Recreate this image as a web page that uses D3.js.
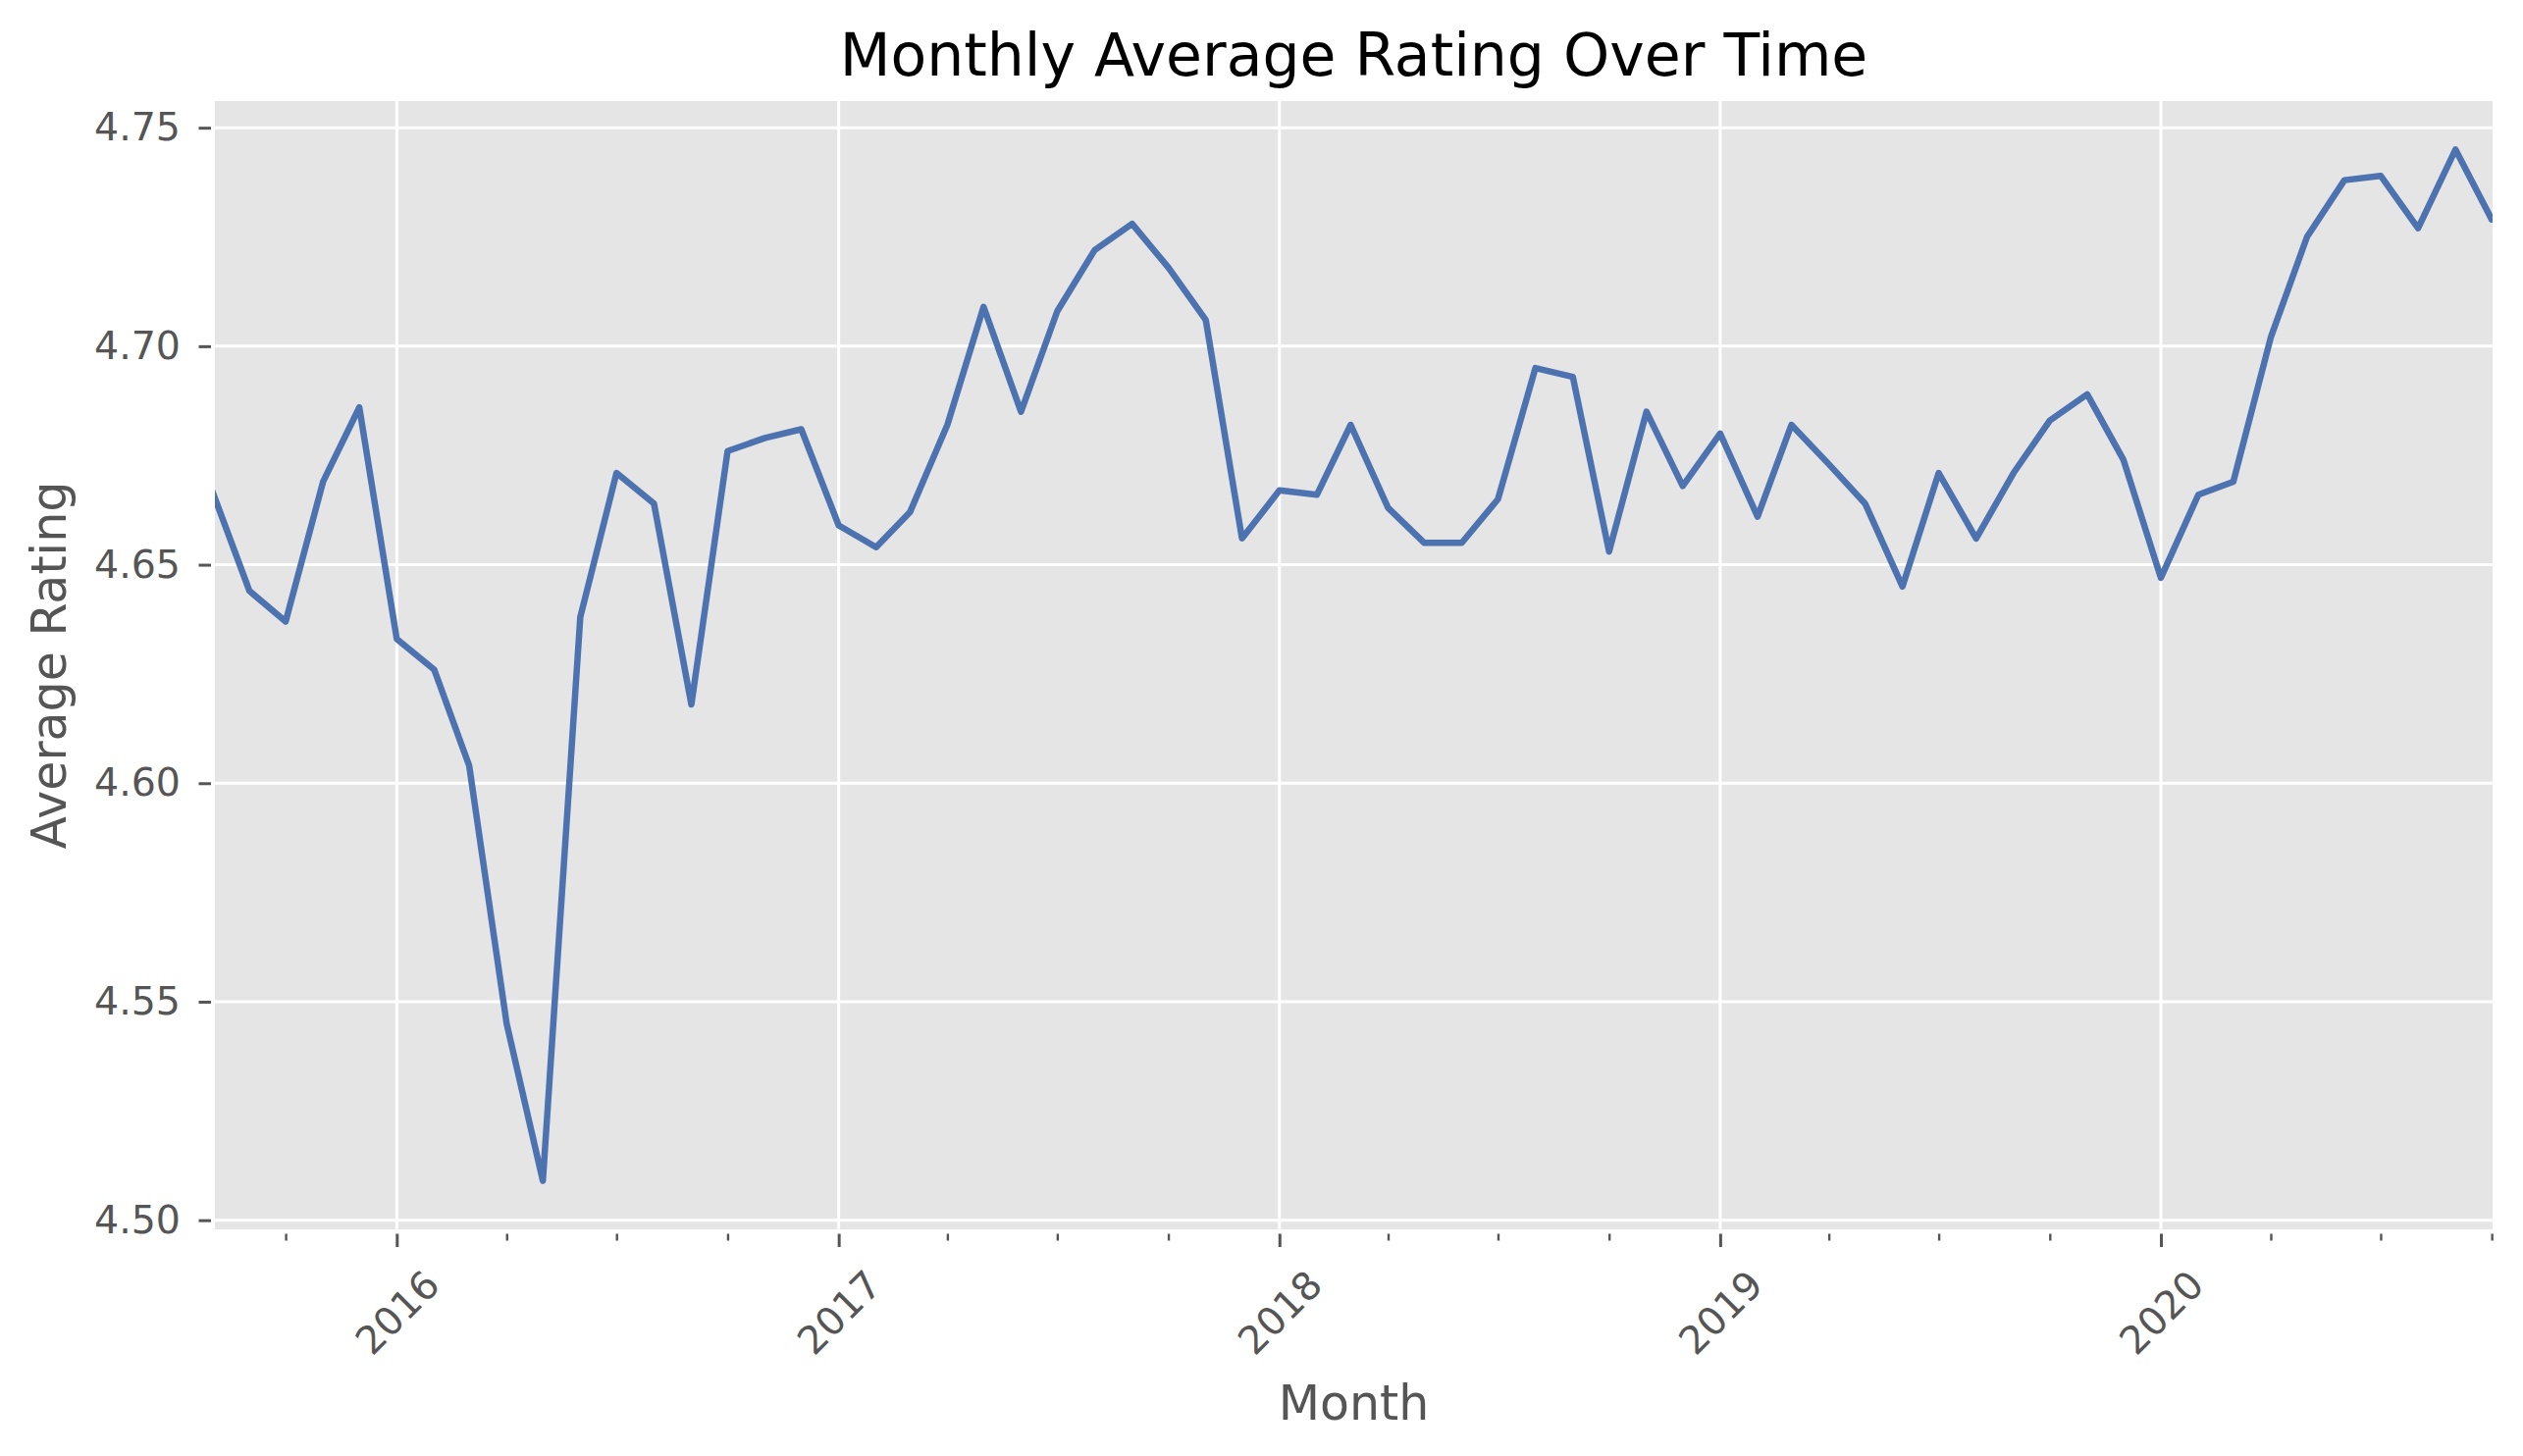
<!DOCTYPE html>
<html><head><meta charset="utf-8">
<script src="https://cdn.jsdelivr.net/npm/d3@7"></script>
<style>
body{margin:0;background:#fff}
svg{display:block}
text{font-family:"DejaVu Sans",sans-serif}
</style>
</head><body>
<svg id="chart" width="2571" height="1484"></svg>
<script>
// ---- data ----
const months = [
  "2015-08","2015-09","2015-10","2015-11","2015-12",
  "2016-01","2016-02","2016-03","2016-04","2016-05","2016-06","2016-07","2016-08","2016-09","2016-10","2016-11","2016-12",
  "2017-01","2017-02","2017-03","2017-04","2017-05","2017-06","2017-07","2017-08","2017-09","2017-10","2017-11","2017-12",
  "2018-01","2018-02","2018-03","2018-04","2018-05","2018-06","2018-07","2018-08","2018-09","2018-10","2018-11","2018-12",
  "2019-01","2019-02","2019-03","2019-04","2019-05","2019-06","2019-07","2019-08","2019-09","2019-10","2019-11","2019-12",
  "2020-01","2020-02","2020-03","2020-04","2020-05","2020-06","2020-07","2020-08","2020-09","2020-10"
];
const ratings = [
  4.667, 4.644, 4.637, 4.669, 4.686,
  4.633, 4.626, 4.604, 4.545, 4.509, 4.638, 4.671, 4.664, 4.618, 4.676, 4.679, 4.681,
  4.659, 4.654, 4.662, 4.682, 4.709, 4.685, 4.708, 4.722, 4.728, 4.718, 4.706, 4.656,
  4.667, 4.666, 4.682, 4.663, 4.655, 4.655, 4.665, 4.695, 4.693, 4.653, 4.685, 4.668,
  4.680, 4.661, 4.682, 4.673, 4.664, 4.645, 4.671, 4.656, 4.671, 4.683, 4.689, 4.674,
  4.647, 4.666, 4.669, 4.702, 4.725, 4.738, 4.739, 4.727, 4.745, 4.729
];
const yTickValues = [4.50, 4.55, 4.60, 4.65, 4.70, 4.75];
const yearTicks = ["2016-01", "2017-01", "2018-01", "2019-01", "2020-01"];
const yearLabels = ["2016", "2017", "2018", "2019", "2020"];
const titleText = "Monthly Average Rating Over Time";
const xLabelText = "Month";
const yLabelText = "Average Rating";

// ---- layout ----
const W = 2571, H = 1484;
const L = 219, R = 2540, T = 103, B = 1253;
const parse = d3.utcParse("%Y-%m");
const data = months.map((m, i) => ({date: parse(m), value: ratings[i]}));

// calibrated so that the 2016 and 2020 year ticks land where they do in the reference
const x = d3.scaleUtc().domain([parse("2016-01"), parse("2020-01")]).range([404.3, 2202]);
const y = d3.scaleLinear().domain([4.4979, 4.7561]).range([B, T]);

const svg = d3.select("#chart");
svg.append("rect").attr("width", W).attr("height", H).attr("fill", "#fff");

// plot background
svg.append("rect").attr("x", L).attr("y", T).attr("width", R - L).attr("height", B - T).attr("fill", "#E5E5E5");

// grid
const grid = svg.append("g");
grid.selectAll("line.h").data(yTickValues).join("line")
  .attr("x1", L).attr("x2", R).attr("y1", d => y(d)).attr("y2", d => y(d))
  .attr("stroke", "#fff").attr("stroke-width", 3);
grid.selectAll("line.v").data(yearTicks.map(parse)).join("line")
  .attr("x1", d => x(d)).attr("x2", d => x(d)).attr("y1", T).attr("y2", B)
  .attr("stroke", "#fff").attr("stroke-width", 3);

// line
svg.append("clipPath").attr("id", "clip").append("rect")
  .attr("x", L).attr("y", T).attr("width", R - L).attr("height", B - T);
const line = d3.line().x(d => x(d.date)).y(d => y(d.value));
svg.append("path").datum(data).attr("d", line)
  .attr("clip-path", "url(#clip)")
  .attr("fill", "none").attr("stroke", "#4C72B0").attr("stroke-width", 6.5)
  .attr("stroke-linejoin", "round").attr("stroke-linecap", "round");

// y axis
const yAxis = svg.append("g").attr("transform", `translate(${L - 4},0)`)
  .call(d3.axisLeft(y).tickValues(yTickValues).tickFormat(d3.format(".2f")).tickSize(12.5).tickPadding(18.5));
yAxis.select(".domain").remove();
yAxis.selectAll(".tick line").attr("stroke", "#555").attr("stroke-width", 3);
yAxis.selectAll(".tick text").attr("fill", "#555").attr("font-size", 39.5)
  .attr("font-family", "DejaVu Sans, sans-serif");

// x axis: minor quarterly ticks (within the visible plot range)
const d0 = x.invert(L), d1 = x.invert(R + 1);
const minorTicks = d3.utcMonth.every(3).range(d0, d1).filter(d => d.getUTCMonth() !== 0);
const xMinor = svg.append("g").attr("transform", `translate(0,${B + 4.5})`)
  .call(d3.axisBottom(x).tickValues(minorTicks).tickSize(7).tickFormat(""));
xMinor.select(".domain").remove();
xMinor.selectAll(".tick line").attr("stroke", "#555").attr("stroke-width", 2.4);

// x axis: major yearly ticks
const xMajor = svg.append("g").attr("transform", `translate(0,${B + 4.5})`)
  .call(d3.axisBottom(x).tickValues(yearTicks.map(parse)).tickSize(13.5).tickFormat((d, i) => yearLabels[i]));
xMajor.select(".domain").remove();
xMajor.selectAll(".tick line").attr("stroke", "#555").attr("stroke-width", 3);
xMajor.selectAll(".tick text")
  .attr("fill", "#555").attr("font-size", 39.5).attr("font-family", "DejaVu Sans, sans-serif")
  .attr("text-anchor", "middle").attr("dominant-baseline", "central")
  .attr("y", 0).attr("dy", null)
  .attr("transform", `translate(0,${1337.5 - (B + 4.5)}) rotate(-45)`);

// title and axis labels
svg.append("text").attr("x", (L + R) / 2).attr("y", 77).attr("text-anchor", "middle")
  .attr("font-size", 60).attr("fill", "#000").text(titleText);
svg.append("text").attr("x", (L + R) / 2).attr("y", 1447).attr("text-anchor", "middle")
  .attr("font-size", 49).attr("fill", "#555").text(xLabelText);
svg.append("text").attr("transform", `translate(67,${(T + B) / 2}) rotate(-90)`).attr("text-anchor", "middle")
  .attr("font-size", 49).attr("fill", "#555").text(yLabelText);
</script>
</body></html>
